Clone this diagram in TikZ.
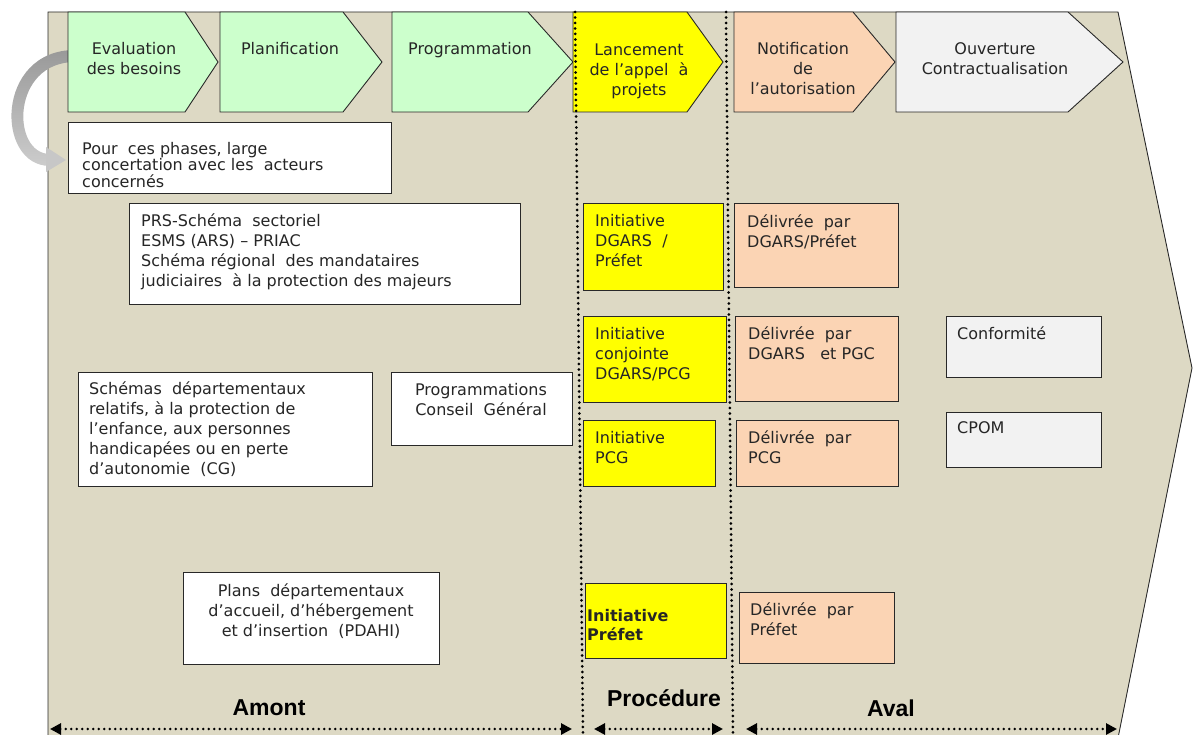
\documentclass[tikz,border=0pt]{standalone}
\usepackage{fontspec}
\newfontfamily\boxfont{DejaVu Sans}
\newfontfamily\labfont{Liberation Sans}
\usetikzlibrary{arrows.meta}
\definecolor{bg}{RGB}{221,217,196}
\definecolor{grn}{RGB}{204,255,204}
\definecolor{yel}{RGB}{255,255,0}
\definecolor{org}{RGB}{251,212,180}
\definecolor{lgr}{RGB}{242,242,242}
\definecolor{txt}{RGB}{38,38,38}
\definecolor{edge}{RGB}{40,40,40}
\newcommand\firstl{\rule{0pt}{14pt}}
\tikzset{
  box/.style={draw=edge, line width=0.9pt, anchor=north west, inner sep=0pt},
  btxt/.style={anchor=north west, inner sep=0pt, align=left, text=txt,
    font=\boxfont\fontsize{16}{20}\selectfont},
  btxts/.style={btxt, font=\boxfont\fontsize{16}{16.5}\selectfont},
  ctxt/.style={anchor=north, inner sep=0pt, align=center, text=txt,
    font=\boxfont\fontsize{16}{20}\selectfont},
  chev/.style={draw=edge, line width=0.9pt},
  divider/.style={line width=3pt, line cap=round, dash pattern=on 0pt off 5.5pt},
  span/.style={line width=2.8pt, line cap=round, dash pattern=on 0pt off 5.5pt,
    {Triangle[length=11pt,width=11pt]}-{Triangle[length=11pt,width=11pt]}},
  lab/.style={font=\labfont\bfseries\fontsize{23}{26}\selectfont, inner sep=0pt,
    text height=16.5pt, text depth=0pt}
}
\begin{document}
\begin{tikzpicture}[x=1pt,y=-1pt]
\useasboundingbox (0,0) rectangle (1193,735);
% background arrow
\fill[bg] (48,738) -- (48,12) -- (1118,12) -- (1192,368) -- (1118,738) -- cycle;
\draw[edge, line width=0.9pt] (48,738) -- (48,12) -- (1118,12) -- (1192,368) -- (1118,738);
% curved gray arrow
\shade[top color=black!40, bottom color=black!20]
  (75,50) .. controls (-5,50) and (-5,166) .. (50,166)
  -- (50,154) .. controls (11,154) and (11,62) .. (75,62) -- cycle;
\fill[black!22] (46,147) -- (66,160) -- (46,172) -- cycle;
% chevrons
\draw[chev, fill=grn] (68,12) -- (185,12) -- (218,62) -- (185,112) -- (68,112) -- cycle;
\draw[chev, fill=grn] (220,12) -- (343,12) -- (382,62) -- (343,112) -- (220,112) -- cycle;
\draw[chev, fill=grn] (392,12) -- (528,12) -- (573,62) -- (528,112) -- (392,112) -- cycle;
\draw[chev, fill=yel] (573,12) -- (687,12) -- (723,62) -- (687,112) -- (573,112) -- cycle;
\draw[chev, fill=org] (734,12) -- (853,12) -- (895,62) -- (853,112) -- (734,112) -- cycle;
\draw[chev, fill=lgr] (896,12) -- (1068,12) -- (1123,62) -- (1068,112) -- (896,112) -- cycle;
\node[ctxt] (c1) at (134,40) {\firstl Evaluation\\des besoins};
\node[ctxt] (c2) at (290,40) {\firstl Planification};
\node[ctxt] (c3) at (470,40) {\firstl Programmation};
\node[ctxt] (c4) at (639,41) {\firstl Lancement\\de l’appel\ \ à\\projets};
\node[ctxt] (c5) at (803,40) {\firstl Notification\\de\\l’autorisation};
\node[ctxt] (c6) at (995,40) {\firstl Ouverture\\Contractualisation};
% boxes
\node[box, fill=white, minimum width=323pt, minimum height=71pt] (pour) at (68,122) {};
\node[btxts] (pourT) at (82,140) {\firstl Pour\ \ ces phases, large\\concertation avec les\ \ acteurs\\concernés};
\node[box, fill=white, minimum width=391pt, minimum height=101pt] (prs) at (129,203) {};
\node[btxt] (prsT) at (141,212) {\firstl PRS-Schéma\ \ sectoriel\\ESMS (ARS) – PRIAC\\Schéma régional\ \ des mandataires\\judiciaires\ \ à la\ protection des majeurs};
\node[box, fill=white, minimum width=294pt, minimum height=114pt] (sch) at (78,372) {};
\node[btxt] (schT) at (89,380) {\firstl Schémas\ \ départementaux\\relatifs, à la protection de\\l’enfance, aux personnes\\handicapées ou en perte\\d’autonomie\ \ (CG)};
\node[box, fill=white, minimum width=181pt, minimum height=73pt] (prog) at (391,372) {};
\node[ctxt] (progT) at (481,381) {\firstl Programmations\\Conseil\ \ Général};
\node[box, fill=white, minimum width=256pt, minimum height=92pt] (plans) at (183,572) {};
\node[ctxt] (plansT) at (311,582) {\firstl Plans\ \ départementaux\\d’accueil, d’hébergement\\et d’insertion\ \ (PDAHI)};
% yellow
\node[box, fill=yel, minimum width=140pt, minimum height=87pt] (y1) at (583,203) {};
\node[btxt] (y1T) at (595,212) {\firstl Initiative\\DGARS\ \ /\\Préfet};
\node[box, fill=yel, minimum width=143pt, minimum height=86pt] (y2) at (583,316) {};
\node[btxt] (y2T) at (595,325) {\firstl Initiative\\conjointe\\DGARS/PCG};
\node[box, fill=yel, minimum width=132pt, minimum height=66pt] (y3) at (583,420) {};
\node[btxt] (y3T) at (595,429) {\firstl Initiative\\PCG};
\node[box, fill=yel, minimum width=141pt, minimum height=75pt] (y4) at (585,583) {};
\node[btxt, font=\boxfont\bfseries\fontsize{16}{19}\selectfont] (y4T) at (587,607) {\firstl Initiative\\Préfet};
% orange
\node[box, fill=org, minimum width=164pt, minimum height=84pt] (o1) at (734,203) {};
\node[btxt] (o1T) at (747,213) {\firstl Délivrée\ \ par\\DGARS/Préfet};
\node[box, fill=org, minimum width=163pt, minimum height=85pt] (o2) at (735,316) {};
\node[btxt] (o2T) at (748,325) {\firstl Délivrée\ \ par\\DGARS\ \ \ et PGC};
\node[box, fill=org, minimum width=162pt, minimum height=66pt] (o3) at (736,420) {};
\node[btxt] (o3T) at (748,429) {\firstl Délivrée\ \ par\\PCG};
\node[box, fill=org, minimum width=155pt, minimum height=71pt] (o4) at (739,592) {};
\node[btxt] (o4T) at (750,601) {\firstl Délivrée\ \ par\\Préfet};
% gray
\node[box, fill=lgr, minimum width=155pt, minimum height=61pt] (conf) at (946,316) {};
\node[btxt] (confT) at (957,325) {\firstl Conformité};
\node[box, fill=lgr, minimum width=155pt, minimum height=55pt] (cpom) at (946,412) {};
\node[btxt] (cpomT) at (957,419) {\firstl CPOM};
% dividers
\coordinate (d1t) at (575,12);
\coordinate (d1b) at (583,735);
\coordinate (d2t) at (726,12);
\coordinate (d2b) at (733,735);
\draw[divider] (d1t) -- (d1b);
\draw[divider] (d2t) -- (d2b);
% bottom spans
\coordinate (a1l) at (50,729);
\coordinate (a1r) at (572,729);
\coordinate (a2l) at (594,729);
\coordinate (a2r) at (723,729);
\coordinate (a3l) at (746,729);
\coordinate (a3r) at (1117,729);
\draw[span] (a1l) -- (a1r);
\draw[span] (a2l) -- (a2r);
\draw[span] (a3l) -- (a3r);
\node[lab] (amont) at (269,707) {Amont};
\node[lab] (proc) at (664,698) {Procédure};
\node[lab] (aval) at (891,708) {Aval};
\end{tikzpicture}
\end{document}
